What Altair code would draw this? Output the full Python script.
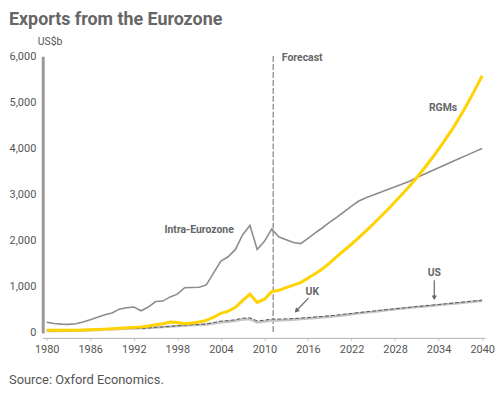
import altair as alt
import pandas as pd

years = list(range(1980, 2041))

intra = [230, 205, 190, 185, 200, 235, 285, 340, 395, 430, 515, 545, 560, 480, 560,
         680, 690, 780, 840, 980, 985, 990, 1040, 1300, 1555, 1650, 1810, 2130, 2330,
         1810, 1985, 2250, 2080, 2020, 1960, 1935, 2050, 2170, 2280, 2400, 2510, 2630,
         2750, 2860, 2930, 2990, 3050, 3110, 3170, 3230, 3290, 3370, 3440, 3510, 3580,
         3650, 3720, 3790, 3860, 3930, 4000]

rgms = [55, 55, 55, 55, 58, 62, 68, 75, 82, 90, 100, 110, 120, 130, 150, 175, 200,
        235, 225, 200, 215, 235, 270, 340, 425, 470, 555, 700, 840, 660, 730, 895, 925,
        980, 1035, 1090, 1190, 1280, 1390, 1520, 1660, 1792, 1927, 2067, 2212, 2362,
        2517, 2677, 2842, 3012, 3187, 3370, 3565, 3770, 3985, 4210, 4445, 4705, 4980,
        5270, 5575]

us = [40, 42, 44, 46, 50, 55, 60, 66, 72, 78, 85, 90, 95, 100, 108, 118, 128, 140,
      150, 158, 170, 175, 185, 205, 230, 245, 265, 290, 300, 225, 245, 270, 272, 278,
      288, 300, 312, 325, 338, 350, 365, 385, 405, 425, 443, 460, 478, 495, 512, 528,
      545, 560, 575, 590, 605, 620, 635, 650, 665, 680, 695]

uk = [48, 48, 48, 50, 52, 58, 65, 75, 82, 85, 95, 100, 100, 95, 105, 120, 128, 140,
      155, 165, 175, 180, 195, 225, 255, 265, 285, 320, 325, 260, 275, 300, 300, 305,
      310, 320, 332, 345, 358, 372, 385, 405, 422, 440, 457, 473, 490, 507, 523, 540,
      555, 570, 585, 600, 615, 630, 646, 662, 678, 694, 710]

x_ticks = [1980, 1986, 1992, 1998, 2004, 2010, 2016, 2022, 2028, 2034, 2040]
y_ticks = [0, 1000, 2000, 3000, 4000, 5000, 6000]
forecast_year = 2011.2

label_text = ["Forecast", "RGMs", "Intra-Eurozone", "UK", "US"]
label_year = [2012.4, 2034.6, 2001.0, 2016.6, 2033.4]
label_value = [5950, 4880, 2236, 880, 1290]
label_align = ["left", "center", "center", "center", "center"]

arrow_year = [2016.07, 2033.4]
arrow_value = [753, 1140]
arrow_year2 = [2014.4, 2033.4]
arrow_value2 = [480, 760]
arrow_angle = [43, 0]

df = pd.DataFrame({
    "year": years * 4,
    "value": intra + rgms + us + uk,
    "series": ["Intra-Eurozone"] * 61 + ["RGMs"] * 61 + ["US"] * 61 + ["UK"] * 61,
})

FONT = "Roboto"
xscale = alt.Scale(domain=[1979.45, 2040.4], nice=False, zero=False)
yscale = alt.Scale(domain=[0, 6000], nice=False)

x_axis = alt.Axis(values=x_ticks, format="d", title=None, grid=False,
                  domainColor="#b0b0b0", domainWidth=1, tickColor="#d0d0d0",
                  tickSize=3, labelPadding=3, offset=5, labelFont=FONT,
                  labelFontSize=11, labelColor="#555555")
y_axis = alt.Axis(values=y_ticks, format=",d", title=None, grid=False,
                  domainColor="#999999", domainWidth=3, ticks=False,
                  labelPadding=7, labelFont=FONT, labelFontSize=11,
                  labelColor="#555555")

base = alt.Chart(df)


def series_line(name, color, width, dash=None):
    kw = dict(color=color, strokeWidth=width, clip=False)
    if dash:
        kw["strokeDash"] = dash
    return base.transform_filter(alt.datum.series == name).mark_line(**kw).encode(
        x=alt.X("year:Q", scale=xscale, axis=x_axis),
        y=alt.Y("value:Q", scale=yscale, axis=y_axis),
    )


fc_df = pd.DataFrame({"year": [forecast_year], "top": [6000], "bottom": [0]})
forecast = alt.Chart(fc_df).mark_rule(color="#666666", strokeWidth=1,
                                      strokeDash=[6, 2]).encode(
    x=alt.X("year:Q", scale=xscale),
    y=alt.Y("top:Q", scale=yscale),
    y2="bottom:Q",
)

lab_df = pd.DataFrame({"text": label_text, "year": label_year,
                       "value": label_value, "align": label_align})
labels_left = alt.Chart(lab_df).transform_filter(alt.datum.align == "left").mark_text(
    align="left", baseline="middle", font=FONT, fontSize=10.5, fontWeight="bold",
    color="#666666").encode(x=alt.X("year:Q", scale=xscale),
                            y=alt.Y("value:Q", scale=yscale), text="text:N")
labels_center = alt.Chart(lab_df).transform_filter(alt.datum.align == "center").mark_text(
    align="center", baseline="middle", font=FONT, fontSize=10.5, fontWeight="bold",
    color="#666666").encode(x=alt.X("year:Q", scale=xscale),
                            y=alt.Y("value:Q", scale=yscale), text="text:N")

arr_df = pd.DataFrame({"x": arrow_year, "y": arrow_value, "x2": arrow_year2,
                       "y2": arrow_value2, "angle": arrow_angle})
arrow_lines = alt.Chart(arr_df).mark_rule(color="#666666", strokeWidth=1.2).encode(
    x=alt.X("x:Q", scale=xscale), y=alt.Y("y:Q", scale=yscale),
    x2="x2:Q", y2="y2:Q")
arrow_heads = alt.Chart(arr_df).mark_point(shape="triangle-down", filled=True,
                                           size=28, color="#666666", opacity=1).encode(
    x=alt.X("x2:Q", scale=xscale), y=alt.Y("y2:Q", scale=yscale),
    angle=alt.Angle("angle:Q", scale=None))

txt_df = pd.DataFrame({"t": ["Exports from the Eurozone", "US$b",
                             "Source: Oxford Economics."],
                       "kind": ["title", "unit", "source"]})
title_t = alt.Chart(txt_df).transform_filter(alt.datum.kind == "title").mark_text(
    align="left", baseline="alphabetic", font=FONT, fontSize=18, fontWeight="bold",
    color="#666666").encode(x=alt.value(-34), y=alt.value(-31), text="t:N")
unit_t = alt.Chart(txt_df).transform_filter(alt.datum.kind == "unit").mark_text(
    align="left", baseline="alphabetic", font=FONT, fontSize=10.5,
    color="#555555").encode(x=alt.value(-5), y=alt.value(-11), text="t:N")
source_t = alt.Chart(txt_df).transform_filter(alt.datum.kind == "source").mark_text(
    align="left", baseline="alphabetic", font=FONT, fontSize=13,
    color="#555555").encode(x=alt.value(-34), y=alt.value(331), text="t:N")

chart = alt.layer(
    forecast,
    series_line("Intra-Eurozone", "#8c8c8c", 1.6),
    series_line("US", "#c4c4c4", 2.6),
    series_line("UK", "#555555", 1, [4, 2]),
    series_line("RGMs", "#ffd200", 3),
    labels_left, labels_center, arrow_lines, arrow_heads,
    title_t, unit_t, source_t,
).properties(
    width=446, height=279,
    autosize=alt.AutoSizeParams(type="none"),
    padding={"left": 35, "top": 47, "right": 10, "bottom": 55},
).configure_view(stroke=None)

chart.save("out.html", embed_options={"renderer": "svg", "actions": False})
